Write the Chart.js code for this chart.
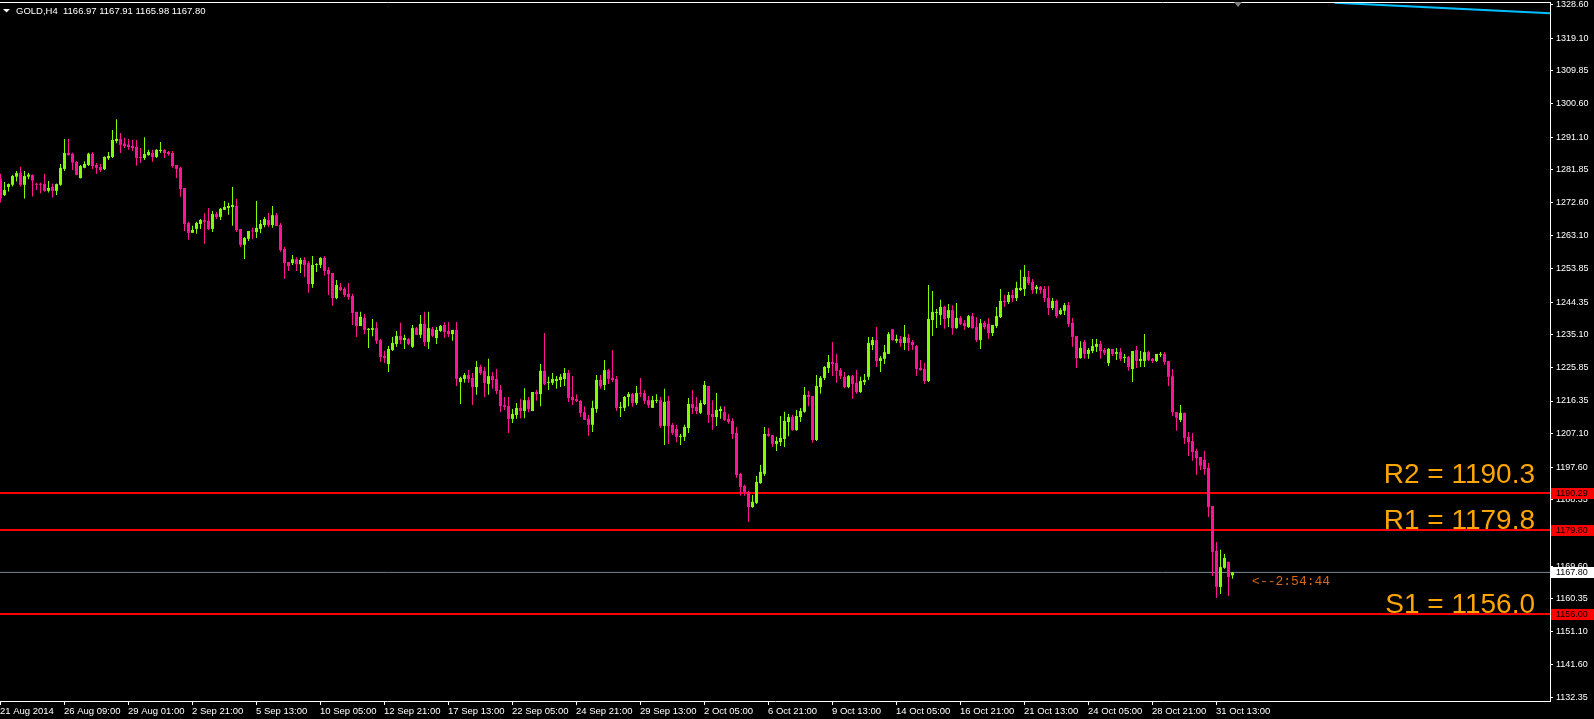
<!DOCTYPE html>
<html>
<head>
<meta charset="utf-8">
<title>GOLD,H4</title>
<script src="https://cdn.jsdelivr.net/npm/chart.js@4.4.1/dist/chart.umd.min.js"></script>
<style>
html,body{margin:0;padding:0;background:#000;overflow:hidden;}
#wrap{width:1594px;height:719px;}
</style>
</head>
<body>
<div id="wrap"><canvas id="chart" width="1594" height="719"></canvas></div>
<script>
/* =========================
   DATOS
========================= */

const symbol = "GOLD,H4";

const opens = [
1279.4,1274.7,1277.0,1277.6,1279.9,1281.0,1277.6,1279.9,1280.4,1277.9,
1277.9,1277.8,1275.9,1277.0,1275.9,1277.6,1282.1,1286.6,1286.4,1284.1,
1279.5,1282.4,1283.2,1286.4,1283.2,1282.6,1282.0,1285.1,1285.5,1290.0,
1290.6,1289.3,1289.0,1288.6,1288.3,1285.5,1285.2,1286.0,1286.6,1285.5,
1287.2,1287.5,1286.9,1286.6,1283.2,1282.4,1276.7,1266.8,1264.0,1265.1,
1266.5,1267.6,1267.4,1265.1,1269.3,1268.5,1270.5,1271.0,1271.3,1271.6,
1265.1,1260.6,1262.3,1264.6,1264.2,1265.1,1266.2,1267.6,1266.2,1269.0,
1266.2,1259.4,1255.7,1255.4,1256.5,1255.1,1256.3,1255.4,1249.5,1254.9,
1254.9,1256.9,1253.5,1252.6,1245.5,1248.6,1248.1,1246.7,1246.1,1241.6,
1237.6,1239.9,1236.5,1236.5,1237.0,1233.6,1229.1,1226.8,1230.8,1232.5,
1234.8,1233.6,1233.9,1231.7,1237.0,1235.1,1238.2,1233.1,1236.8,1234.2,
1236.2,1237.9,1236.2,1235.3,1236.5,1221.7,1222.6,1223.7,1222.9,1220.3,
1226.0,1224.9,1221.2,1223.4,1222.6,1219.5,1215.2,1214.9,1211.3,1212.4,
1214.4,1213.5,1216.6,1213.5,1218.9,1218.3,1224.9,1221.5,1221.5,1222.0,
1222.3,1222.6,1224.3,1217.5,1216.9,1216.4,1213.2,1211.3,1209.6,1214.1,
1222.3,1220.9,1225.1,1222.9,1222.6,1214.4,1214.4,1217.5,1218.3,1215.8,
1218.6,1218.6,1216.6,1214.4,1216.4,1216.6,1209.3,1216.4,1209.6,1208.4,
1206.2,1206.2,1208.7,1215.5,1214.7,1213.0,1215.5,1220.6,1212.7,1211.8,
1213.5,1213.2,1211.3,1210.7,1207.3,1195.7,1192.3,1190.6,1186.3,1187.5,
1193.1,1195.7,1207.0,1206.7,1204.2,1204.7,1205.6,1210.4,1211.8,1208.1,
1211.8,1213.3,1218.1,1217.8,1205.3,1220.3,1222.9,1225.7,1227.4,1227.1,
1225.1,1223.2,1220.3,1223.4,1221.5,1218.9,1221.7,1223.2,1232.2,1233.6,
1227.7,1228.3,1229.7,1236.7,1233.4,1233.9,1232.8,1234.2,1233.1,1231.9,
1225.7,1225.4,1222.0,1239.3,1241.3,1240.7,1243.0,1239.9,1242.1,1237.0,
1239.9,1238.4,1237.3,1240.4,1237.3,1233.6,1238.5,1238.2,1235.6,1237.6,
1240.1,1244.7,1244.4,1246.4,1245.5,1247.8,1248.1,1251.5,1250.1,1248.1,
1248.7,1248.1,1245.5,1242.7,1244.7,1241.0,1241.9,1243.5,1238.5,1234.8,
1228.5,1233.1,1229.7,1230.5,1231.7,1232.5,1230.8,1227.1,1231.1,1229.7,
1230.2,1228.5,1228.8,1225.4,1230.8,1227.7,1227.7,1230.2,1228.3,1227.7,
1229.4,1229.7,1227.7,1223.4,1213.2,1211.0,1213.0,1206.2,1205.0,1202.2,
1200.5,1199.7,1197.4,1186.6,1173.9,1163.7,1169.1,1170.8,1166.97
];

const highs = [
1280.7,1278.4,1278.0,1280.4,1281.5,1282.7,1281.5,1281.0,1280.6,1278.2,
1278.2,1280.7,1278.7,1278.0,1278.0,1283.5,1290.6,1290.6,1286.7,1284.3,
1283.2,1284.3,1286.7,1286.9,1283.8,1283.5,1285.6,1286.9,1293.1,1296.2,
1292.3,1290.9,1290.6,1290.3,1290.3,1288.0,1291.1,1287.5,1287.5,1287.7,
1289.7,1287.7,1287.2,1287.2,1283.2,1282.7,1276.7,1267.1,1266.0,1267.1,
1267.9,1269.6,1271.0,1270.2,1269.9,1271.0,1273.0,1272.5,1277.0,1273.6,
1265.1,1262.8,1264.5,1265.4,1273.0,1267.6,1268.5,1269.6,1271.6,1269.6,
1266.8,1260.0,1255.7,1257.7,1257.1,1256.9,1257.1,1256.0,1257.4,1255.4,
1257.1,1257.4,1254.3,1252.6,1250.6,1249.8,1248.6,1249.8,1246.7,1241.6,
1241.6,1241.0,1237.0,1239.6,1238.7,1233.9,1230.5,1231.9,1234.5,1236.2,
1238.5,1235.1,1234.2,1237.9,1237.3,1240.7,1241.6,1241.6,1237.3,1237.3,
1237.9,1238.7,1238.7,1236.5,1238.7,1223.2,1224.3,1225.1,1224.3,1227.7,
1226.6,1226.0,1228.3,1224.6,1225.4,1220.9,1217.5,1217.5,1214.1,1215.8,
1216.9,1220.0,1217.5,1218.9,1219.5,1226.8,1235.6,1223.2,1224.3,1223.4,
1224.0,1225.7,1225.1,1223.4,1218.3,1216.6,1214.9,1212.4,1216.4,1223.7,
1223.7,1228.0,1225.4,1230.8,1223.4,1216.1,1217.8,1218.9,1218.6,1220.6,
1222.9,1219.5,1217.8,1217.8,1218.3,1217.5,1219.8,1217.8,1210.1,1209.6,
1207.0,1209.6,1217.2,1219.5,1217.5,1216.6,1222.0,1220.6,1216.6,1218.6,
1214.9,1214.9,1212.7,1211.5,1209.0,1196.0,1192.6,1190.9,1189.7,1195.1,
1198.2,1209.0,1208.7,1206.7,1206.2,1212.1,1213.3,1212.7,1212.4,1213.8,
1214.4,1220.3,1219.2,1217.8,1223.7,1223.4,1226.3,1229.4,1233.1,1229.7,
1225.7,1224.6,1223.7,1223.7,1225.1,1223.2,1224.0,1234.5,1234.5,1237.3,
1229.1,1232.2,1235.9,1236.7,1235.1,1234.8,1237.9,1235.3,1233.6,1232.2,
1228.0,1227.1,1249.2,1247.5,1242.4,1245.0,1243.3,1243.8,1243.5,1244.1,
1240.4,1239.3,1240.7,1241.3,1240.1,1239.6,1239.0,1239.9,1237.9,1243.0,
1248.1,1246.4,1247.2,1247.8,1250.1,1253.5,1254.9,1253.2,1250.9,1249.2,
1248.9,1248.9,1248.9,1245.5,1245.0,1242.7,1244.1,1244.4,1239.9,1234.8,
1233.3,1233.6,1231.4,1233.9,1233.9,1233.4,1231.4,1231.4,1231.1,1231.4,
1231.4,1229.7,1229.1,1230.5,1231.9,1230.5,1235.3,1230.5,1228.5,1229.7,
1230.2,1230.2,1227.7,1225.4,1213.2,1215.2,1213.0,1207.6,1207.3,1202.8,
1200.5,1202.2,1198.8,1186.6,1176.4,1174.2,1173.0,1170.8,1167.91
];

const lows = [
1272.6,1274.4,1275.7,1277.1,1278.5,1277.1,1273.7,1279.2,1274.3,1276.1,
1275.2,1275.6,1275.4,1274.0,1274.7,1277.3,1281.5,1285.9,1281.8,1280.3,
1279.4,1282.3,1282.9,1282.1,1280.7,1281.2,1281.8,1284.6,1285.2,1289.4,
1286.6,1288.0,1287.5,1287.2,1283.0,1283.8,1284.6,1285.8,1284.1,1285.2,
1286.6,1285.2,1285.8,1282.4,1279.5,1274.2,1264.5,1262.0,1264.0,1263.7,
1265.1,1260.9,1264.8,1264.2,1267.9,1267.6,1270.5,1269.1,1266.0,1264.2,
1260.0,1256.6,1261.7,1262.2,1262.5,1263.9,1265.6,1265.6,1265.4,1265.9,
1258.6,1250.9,1253.2,1254.9,1253.2,1252.6,1251.5,1247.0,1248.4,1252.9,
1254.0,1251.8,1246.4,1243.3,1245.2,1247.5,1245.8,1245.0,1237.9,1234.5,
1237.6,1235.3,1231.4,1234.7,1232.5,1227.4,1227.1,1224.6,1230.5,1231.7,
1232.5,1231.1,1232.2,1231.4,1235.1,1234.2,1231.9,1231.1,1234.5,1232.5,
1235.9,1234.2,1234.5,1233.4,1220.6,1215.5,1221.5,1221.5,1215.2,1218.1,
1223.7,1217.5,1218.1,1219.8,1218.3,1213.2,1213.8,1207.3,1210.1,1211.3,
1211.5,1211.5,1213.2,1213.5,1216.4,1214.9,1220.9,1219.5,1220.9,1219.8,
1220.3,1220.6,1216.1,1215.2,1216.1,1211.8,1211.0,1206.5,1207.6,1213.0,
1219.8,1219.5,1221.2,1221.7,1213.5,1211.8,1213.5,1214.9,1214.7,1215.2,
1217.5,1215.5,1214.4,1214.4,1215.8,1208.7,1203.9,1204.2,1206.7,1204.7,
1203.9,1205.0,1207.3,1212.7,1212.7,1212.7,1215.2,1210.1,1208.2,1209.3,
1211.3,1210.7,1209.9,1205.6,1194.6,1189.6,1189.5,1182.1,1186.1,1187.2,
1192.9,1195.1,1206.2,1203.3,1202.2,1203.6,1203.3,1206.4,1207.9,1207.9,
1210.4,1213.0,1214.9,1204.5,1205.0,1218.4,1222.3,1224.3,1223.4,1221.5,
1222.6,1220.0,1220.0,1216.9,1218.4,1218.6,1220.9,1222.3,1230.8,1226.0,
1224.6,1226.8,1229.7,1233.4,1232.8,1231.7,1230.8,1230.5,1230.8,1223.4,
1224.9,1221.2,1221.7,1234.8,1237.0,1237.9,1236.8,1237.3,1235.1,1236.8,
1237.9,1236.5,1237.0,1236.8,1233.1,1231.1,1236.7,1233.9,1234.8,1237.0,
1239.9,1243.0,1243.8,1244.4,1244.7,1247.5,1246.1,1249.2,1246.7,1246.7,
1246.7,1244.4,1240.7,1242.1,1239.9,1240.7,1240.7,1237.3,1231.7,1225.7,
1228.3,1228.3,1228.3,1229.9,1230.2,1228.3,1229.4,1226.3,1229.1,1228.0,
1227.7,1227.1,1224.9,1221.7,1225.7,1226.0,1226.0,1227.7,1227.1,1227.4,
1228.8,1226.6,1220.6,1212.1,1207.9,1210.4,1204.2,1200.8,1199.4,1195.4,
1196.8,1195.4,1183.5,1166.8,1160.6,1161.7,1168.8,1161.1,1165.98
];

const closes = [
1273.8,1276.1,1277.8,1280.1,1280.9,1277.6,1280.1,1280.5,1278.8,1277.6,
1277.6,1275.9,1276.7,1275.9,1277.8,1282.4,1286.6,1286.0,1283.9,1280.4,
1282.9,1283.5,1286.4,1282.9,1282.4,1281.8,1285.5,1285.8,1290.3,1290.6,
1288.9,1288.6,1288.3,1288.0,1285.2,1285.2,1286.3,1286.9,1285.5,1287.5,
1287.5,1286.6,1286.3,1282.9,1282.1,1276.4,1266.5,1264.0,1264.8,1266.8,
1267.6,1267.1,1265.1,1269.3,1268.5,1270.8,1271.3,1271.6,1271.9,1264.8,
1260.6,1262.5,1264.5,1264.4,1265.4,1266.5,1267.9,1266.2,1269.0,1265.9,
1259.1,1255.4,1254.6,1256.5,1255.1,1256.3,1254.9,1249.5,1254.9,1255.1,
1256.9,1253.2,1252.3,1245.5,1249.2,1247.8,1246.4,1245.8,1241.3,1237.6,
1240.2,1236.5,1236.8,1237.0,1233.4,1228.8,1228.5,1231.1,1232.8,1234.8,
1233.6,1234.2,1232.5,1237.0,1235.1,1238.2,1233.1,1237.0,1234.8,1236.5,
1237.6,1235.9,1235.3,1236.5,1222.6,1222.9,1223.7,1222.6,1220.3,1226.0,
1224.3,1221.5,1223.4,1222.3,1219.2,1214.9,1214.7,1211.3,1212.7,1214.4,
1213.5,1216.6,1214.1,1218.9,1218.3,1224.9,1221.2,1221.7,1222.6,1222.6,
1223.2,1224.3,1217.2,1216.6,1216.4,1213.0,1211.0,1209.6,1214.4,1222.3,
1220.6,1225.1,1222.6,1222.3,1214.4,1214.7,1217.5,1218.3,1215.8,1218.6,
1218.3,1216.4,1215.2,1216.6,1216.6,1209.3,1216.1,1209.3,1207.3,1206.2,
1206.5,1209.0,1215.5,1214.4,1213.5,1215.8,1220.9,1212.4,1211.8,1213.8,
1214.1,1211.0,1210.4,1207.0,1195.4,1192.0,1190.6,1186.3,1187.8,1193.4,
1196.3,1207.0,1206.5,1204.2,1205.0,1205.9,1210.7,1211.8,1208.1,1212.1,
1213.5,1218.1,1217.5,1205.3,1220.6,1222.9,1226.0,1227.4,1226.8,1224.9,
1223.4,1220.3,1223.4,1221.2,1218.9,1222.0,1222.3,1232.8,1233.6,1227.7,
1228.5,1230.2,1235.3,1233.6,1233.9,1232.8,1234.5,1232.8,1232.2,1225.4,
1225.1,1222.0,1239.6,1241.6,1241.6,1243.0,1239.6,1242.1,1237.0,1239.9,
1238.2,1237.6,1240.4,1237.0,1233.6,1238.4,1237.3,1235.6,1237.9,1240.4,
1244.7,1244.4,1246.4,1245.5,1248.4,1248.4,1251.5,1249.8,1247.8,1248.7,
1247.8,1245.5,1242.7,1244.7,1240.4,1242.1,1243.5,1238.2,1234.5,1228.5,
1231.4,1229.7,1230.8,1231.9,1232.5,1230.5,1230.0,1231.1,1229.7,1230.2,
1228.3,1228.8,1226.0,1230.5,1227.7,1228.3,1230.2,1228.0,1227.7,1229.7,
1229.7,1227.4,1223.2,1213.2,1211.6,1213.0,1205.9,1204.7,1201.9,1200.2,
1198.0,1197.1,1186.3,1173.6,1163.7,1169.3,1171.9,1166.5,1167.80
];

/* etiquetas de ejes */
const xTickLabels = [
"21 Aug 2014","26 Aug 09:00","29 Aug 01:00","2 Sep 21:00","5 Sep 13:00",
"10 Sep 05:00","12 Sep 21:00","17 Sep 13:00","22 Sep 05:00","24 Sep 21:00",
"29 Sep 13:00","2 Oct 05:00","6 Oct 21:00","9 Oct 13:00","14 Oct 05:00",
"16 Oct 21:00","21 Oct 13:00","24 Oct 05:00","28 Oct 21:00","31 Oct 13:00"
];
const barsPerLabel = 16;

const yTickValues = [
1328.60,1319.10,1309.85,1300.60,1291.10,1281.85,1272.60,1263.10,1253.85,1244.35,1235.10,
1225.85,1216.35,1207.10,1197.60,1188.35,1179.10,1169.60,1160.35,1151.10,1141.60,1132.35
];

/* niveles */
const levelNames = ["R2","R1","S1"];
const levelValues = [1190.29, 1179.80, 1156.00];
const levelTextAt = [1193.1, 1180.1, 1156.4];
const bidPrice = 1167.80;
const countdown = "<--2:54:44";

/* linea azul arriba a la derecha */
const trendX = [333.5, 387.4];
const trendY = [1329.2, 1326.2];

/* rango visible */
const yMin = 1131.37, yMax = 1329.38;
const xMin = -0.125, xMax = 387.375;

/* =========================
   COLORES
========================= */

const bull = "#7FFF00";
const bear = "#FF1493";
const candleColors = closes.map((c,i)=> c > opens[i] ? bull : bear);

/* =========================
   DATASETS
========================= */

const bodies = closes.map((c,i)=>({x:i, y:[opens[i], c]}));
const wicks = closes.map((c,i)=>({x:i, y:[lows[i], highs[i]]}));

const levelSets = levelValues.map(v=>({
type: "line",
data: [{x:xMin,y:v},{x:xMax,y:v}],
borderColor: "#FF0000",
borderWidth: 2,
pointRadius: 0,
order: 5
}));

const bidSet = {
type: "line",
data: [{x:xMin,y:bidPrice},{x:xMax,y:bidPrice}],
borderColor: "#778899",
borderWidth: 1,
pointRadius: 0,
order: 5
};

const trendSet = {
type: "line",
data: trendX.map((x,i)=>({x:x,y:trendY[i]})),
borderColor: "#00BFFF",
borderWidth: 2,
pointRadius: 0,
order: 5
};

/* =========================
   PLUGIN: textos estilo MT4
========================= */

const axisFont = "9px 'Liberation Sans'";

const mt4Overlay = {
id: "mt4Overlay",
beforeDraw(chart){
const c = chart.ctx;
c.save();
c.fillStyle = "#000";
c.fillRect(0,0,chart.width,chart.height);
c.restore();
},
afterDraw(chart){
const c = chart.ctx;
const xs = chart.scales.x, ys = chart.scales.y, area = chart.chartArea;
c.save();

/* borde superior */
c.strokeStyle = "#fff";
c.lineWidth = 1;
c.beginPath();
c.moveTo(0, area.top + 0.5);
c.lineTo(area.right, area.top + 0.5);
c.stroke();

/* cabecera */
const last = opens.length - 1;
c.fillStyle = "#fff";
c.beginPath();
c.moveTo(3,9); c.lineTo(10,9); c.lineTo(6.5,12.5); c.closePath();
c.fill();
c.font = "9.5px 'Liberation Sans'";
c.textBaseline = "alphabetic";
c.textAlign = "left";
c.fillText(symbol + "  " + [opens[last],highs[last],lows[last],closes[last]].map(v=>v.toFixed(2)).join(" "), 16, 14);

/* marcador de desplazamiento */
const sx = Math.round(xs.getPixelForValue(opens.length + 0.4));
c.fillStyle = "#808080";
c.beginPath();
c.moveTo(sx-4,2); c.lineTo(sx+4,2); c.lineTo(sx,7); c.closePath();
c.fill();

/* textos R2 R1 S1 */
c.font = "28px 'Liberation Sans'";
c.fillStyle = "#FFA500";
c.textAlign = "right";
levelNames.forEach((n,i)=>{
c.fillText(n + " = " + levelValues[i].toFixed(1), 1535, ys.getPixelForValue(levelTextAt[i]));
});

/* cuenta atras */
c.font = "13px 'Liberation Mono'";
c.fillStyle = "#D2691E";
c.textAlign = "left";
c.textBaseline = "middle";
c.fillText(countdown, xs.getPixelForValue(opens.length + 3.9), ys.getPixelForValue(bidPrice) + 9);

/* etiquetas de precio en el eje */
c.font = axisFont;
const tag = (v, bg)=>{
const y = Math.round(ys.getPixelForValue(v));
c.fillStyle = bg;
c.fillRect(area.right + 1, y - 5, chart.width - area.right - 1, 11);
c.fillStyle = "#000";
c.fillText(v.toFixed(2), area.right + 6, y + 0.5);
};
levelValues.forEach(v=>tag(v, "#FF0000"));
tag(bidPrice, "#FFFFFF");

c.restore();
}
};

/* =========================
   CHART
========================= */

new Chart(document.getElementById("chart"), {
type: "bar",
data: {
datasets: [
{
data: bodies,
backgroundColor: candleColors,
barThickness: 3,
minBarLength: 1,
grouped: false,
inflateAmount: 0,
borderWidth: 0,
order: 1
},
{
data: wicks,
backgroundColor: candleColors,
barThickness: 1,
grouped: false,
inflateAmount: 0,
borderWidth: 0,
order: 2
},
...levelSets,
bidSet,
trendSet
]
},
options: {
responsive: false,
animation: false,
devicePixelRatio: 1,
events: [],
layout: { padding: { top: 2, left: 0, right: 0, bottom: 0 } },
plugins: { legend: { display: false }, tooltip: { enabled: false }, title: { display: false } },
scales: {
x: {
type: "linear",
min: xMin,
max: xMax,
offset: false,
afterBuildTicks: s => { s.ticks = xTickLabels.map((t,i)=>({value: i*barsPerLabel + xMin})); },
afterFit: s => { s.height = 18; s.paddingLeft = 0; s.paddingRight = 0; },
ticks: {
color: "#fff",
font: { family: "Liberation Sans", size: 9.5 },
align: "start",
autoSkip: false,
maxRotation: 0,
minRotation: 0,
padding: 1,
callback: (v,i) => xTickLabels[i]
},
grid: { drawOnChartArea: false, color: "#fff", tickLength: 4, offset: false },
border: { color: "#fff" }
},
y: {
type: "linear",
position: "right",
min: yMin,
max: yMax,
afterBuildTicks: s => { s.ticks = yTickValues.map(v=>({value: v})); },
afterFit: s => { s.width = 44; s.paddingTop = 0; s.paddingBottom = 0; },
ticks: {
color: "#fff",
font: { family: "Liberation Sans", size: 9 },
padding: 3,
callback: v => Number(v).toFixed(2)
},
grid: { drawOnChartArea: false, color: "#fff", tickLength: 3 },
border: { color: "#fff" }
}
}
},
plugins: [mt4Overlay]
});
</script>
</body>
</html>
